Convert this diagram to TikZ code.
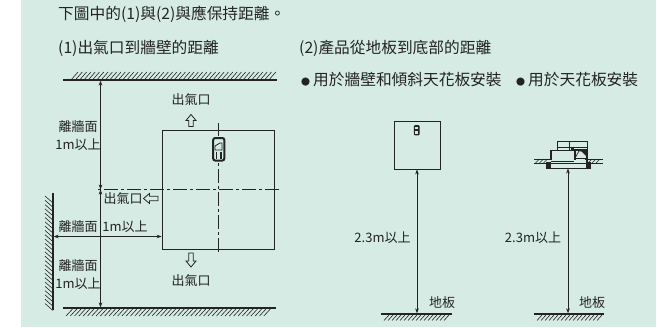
\documentclass[tikz,border=0pt]{standalone}
\usepackage{fontspec}
\setmainfont{Noto Sans CJK TC}
\usetikzlibrary{arrows.meta}
\definecolor{bgc}{RGB}{214,235,228}
\definecolor{ink}{RGB}{35,35,35}
\newcommand{\smallbullet}{{\fontsize{9}{10}\selectfont ●}}
\tikzset{
  x=1pt,y=-1pt,
  head/.style={font=\fontsize{15.7}{17}\selectfont,text=ink,inner sep=0pt,anchor=west},
  lab/.style={font=\fontsize{13}{15}\selectfont,text=ink,inner sep=0pt},
  wallline/.style={draw=ink,line width=1.4pt},
  hatch/.style={draw=ink,line width=0.6pt},
  dim/.style={draw=ink,line width=0.7pt,{Stealth[length=5pt,width=3.6pt]}-{Stealth[length=5pt,width=3.6pt]}},
  center line/.style={draw=ink,line width=0.6pt,dash pattern=on 14pt off 3pt on 3pt off 3pt},
  hollow/.style={draw=ink,fill=bgc,line width=0.8pt,line join=miter},
}
\begin{document}
\begin{tikzpicture}
\useasboundingbox (0,0) rectangle (671,327);
\fill[bgc] (21,0) rectangle (656,327);
% headings
\node[head] (t0) at (58,14) {下圖中的(1)與(2)與應保持距離。};
\node[head] (t1) at (58,48) {(1)出氣口到牆壁的距離};
\node[head] (t2) at (299,48) {(2)產品從地板到底部的距離};
\node[head] (t3) at (301,80) {\smallbullet\kern3pt 用於牆壁和傾斜天花板安裝};
\node[head] (t4) at (516,80) {\smallbullet\kern3pt 用於天花板安裝};
% left: surfaces
\coordinate (ceilL) at (63,80); \coordinate (ceilR) at (277,80);
\coordinate (floorL) at (63,308); \coordinate (floorR) at (276,308);
\coordinate (wallT) at (53,193); \coordinate (wallB) at (53,310);
\draw[wallline] (ceilL) -- (ceilR);
\draw[wallline] (floorL) -- (floorR);
\draw[wallline,line width=1.1pt] (wallT) -- (wallB);
\foreach \x in {71,75.3,...,270} \draw[hatch] (\x,80) -- (\x+7,72);
\foreach \x in {66,70.3,...,266} \draw[hatch] (\x,316) -- (\x+6.5,309);
\foreach \y in {196,200.3,...,304} \draw[hatch] (45,\y) -- (53,\y+7);
% left: box
\node[draw=ink,line width=0.9pt,inner sep=0pt,minimum width=112.5pt,minimum height=119.5pt] (box) at (218.3,189.7) {};
\coordinate (cT) at (218.5,123); \coordinate (cB) at (218.5,254);
\coordinate (cL) at (97,189.5); \coordinate (cR) at (279,189.5);
\draw[center line] (cR) -- (cL);
\draw[center line] (cT) -- (cB);
% wall unit
\fill[bgc] (212,136) rectangle (225,162);
\draw[ink,line width=2pt,rounded corners=2pt] (213.2,138) rectangle (224.3,160.5);
\draw[ink,line width=0.8pt] (215,150) -- (215,146) -- (220,143) -- (222,143) -- (222,150) -- cycle;
\draw[ink,line width=1.2pt] (216.5,151.5) -- (216.5,159) (221,151.5) -- (221,159);
% left: dimensions
\coordinate (midC) at (100.5,189.5);
\coordinate (dC) at (100.5,80.6); \coordinate (dF) at (100.5,307.4);
\coordinate (wallA) at (53.6,236.5);
\draw[dim] (dC) -- (midC);
\draw[dim] (midC) -- (dF);
\draw[dim] (wallA) -- (box.west |- wallA);
% hollow arrows
\draw[hollow] (191,114.5) -- (196,120.5) -- (193.3,120.5) -- (193.3,126.5) -- (188.7,126.5) -- (188.7,120.5) -- (186,120.5) -- cycle;
\draw[hollow] (191,267) -- (196,261) -- (193.3,261) -- (193.3,253) -- (188.7,253) -- (188.7,261) -- (186,261) -- cycle;
\draw[hollow] (143.5,198.5) -- (149.5,193.5) -- (149.5,196.2) -- (158,196.2) -- (158,200.8) -- (149.5,200.8) -- (149.5,203.5) -- cycle;
% left labels
\node[lab] (o1) at (191,100) {出氣口};
\node[lab] (o2) at (123,198.5) {出氣口};
\node[lab] (o3) at (191,281) {出氣口};
\node[lab] (a1) at (78,127) {離牆面};
\node[lab] (a2) at (78,145) {1m以上};
\node[lab] (b1) at (78,227) {離牆面};
\node[lab] (b2) at (125,227) {1m以上};
\node[lab] (c1) at (78,265.5) {離牆面};
\node[lab] (c2) at (78,284) {1m以上};
% middle
\node[draw=ink,line width=0.9pt,inner sep=0pt,minimum width=46pt,minimum height=48pt] (box2) at (417,145) {};
\fill[ink,rounded corners=1pt] (413.8,125.2) rectangle (419.6,135.3);
\fill[bgc] (415.4,127) rectangle (418,129.4);
\fill[bgc] (415.4,131.2) rectangle (418,133.6);
\coordinate (fm) at (417,313.3);
\coordinate (fmL) at (381,314); \coordinate (fmR) at (452,314);
\draw[wallline] (fmL) -- (fmR);
\foreach \x in {384,388,...,446} \draw[hatch] (\x,320.5) -- (\x+5,315);
\draw[dim] (box2.south) -- (fm);
\node[lab] (h1) at (382.5,238) {2.3m以上};
\node[lab] (g1) at (442,303) {地板};
% right: ceiling unit
\foreach \x in {535.5,539.5,543.5} \draw[hatch] (\x,163) -- (\x+4,159);
\foreach \x in {588,592,596} \draw[hatch] (\x,163) -- (\x+4,159);
\draw[ink,line width=0.7pt] (534,159) -- (552,159) (534,163.3) -- (552,163.3) (585,159) -- (603,159) (585,163.3) -- (603,163.3);
\draw[ink,line width=0.9pt] (557,141) rectangle (587,150);
\draw[ink,line width=0.7pt] (557,147) -- (587,147) (569,141) -- (569,150);
\draw[ink,line width=1.1pt] (551,160) -- (551,150.5) -- (575,150.5) -- (575,160);
\draw[ink,line width=1.1pt] (574,150) -- (587,150) -- (587,163);
\fill[ink] (571,146.5) rectangle (574,150);
\draw[ink,line width=0.7pt] (575,158) -- (579,151) -- (586,151);
\fill[ink] (581,151) -- (586,151) -- (586,156) -- cycle;
\draw[ink,line width=1pt] (551,161) -- (574,161) (574,158) -- (587,158);
\node[draw=ink,line width=1.1pt,inner sep=0pt,minimum width=40pt,minimum height=5pt] (cu) at (568,166) {};
\draw[ink,line width=1.1pt,fill=ink] (547,163) rectangle (550,168.5);
\draw[ink,line width=1.1pt,fill=ink] (587,163) rectangle (590,168.5);
\coordinate (fr) at (568,313.3);
\coordinate (frL) at (534,314); \coordinate (frR) at (604,314);
\draw[wallline] (frL) -- (frR);
\foreach \x in {537,541,...,598} \draw[hatch] (\x,320.5) -- (\x+5,315);
\coordinate (cuB) at (568,168.5);
\draw[dim] (cuB) -- (fr);
\node[lab] (h2) at (533,238) {2.3m以上};
\node[lab] (g2) at (592,303) {地板};
\end{tikzpicture}
\end{document}
